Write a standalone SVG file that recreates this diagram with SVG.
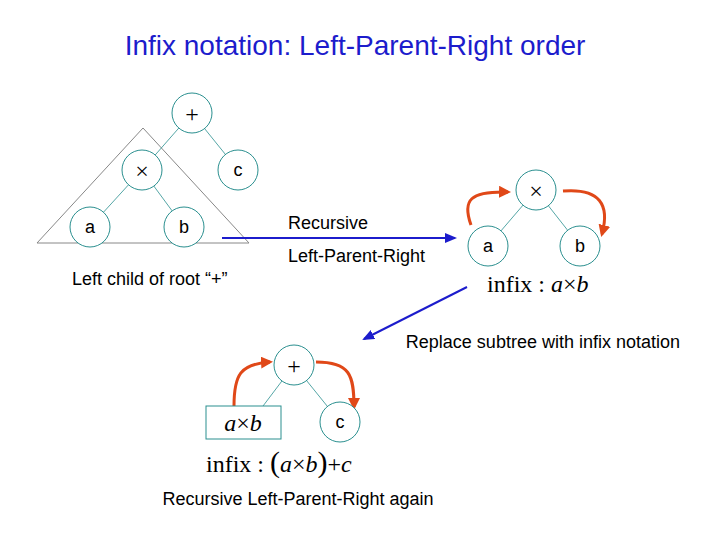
<svg xmlns="http://www.w3.org/2000/svg" width="720" height="540" viewBox="0 0 720 540">
<style>
.n{fill:#fff;stroke:#2a8f8f;stroke-width:1}
.e{stroke:#2a8f8f;stroke-width:0.8}
.t{font-family:"Liberation Sans",Arial,sans-serif;font-size:18px;fill:#000}
.m{font-family:"Liberation Serif","Times New Roman",serif;font-size:24px;fill:#000}
.r{fill:none;stroke:#e04818;stroke-width:3}
.b{stroke:#1c1ccc;stroke-width:2}
</style>
<defs>
<marker id="ra" markerWidth="4" markerHeight="4" refX="3" refY="2" orient="auto" markerUnits="strokeWidth"><path d="M0,0L4,2L0,4z" fill="#e04818"/></marker>
<marker id="ba" markerWidth="6" markerHeight="5" refX="5" refY="2.5" orient="auto" markerUnits="strokeWidth"><path d="M0,0L6,2.5L0,5z" fill="#1c1ccc"/></marker>
</defs>
<text x="355" y="55" text-anchor="middle" font-family="Liberation Sans,Arial,sans-serif" font-size="28" fill="#1c1ccc">Infix notation: Left-Parent-Right order</text>
<g id="connectors">
<polygon points="143,128 37,243 249,243" fill="none" stroke="#888" stroke-width="1"/>
<line class="e" x1="192" y1="113" x2="142" y2="170"/><line class="e" x1="192" y1="113" x2="238" y2="170"/>
<line class="e" x1="142" y1="170" x2="90" y2="227"/><line class="e" x1="142" y1="170" x2="184" y2="227"/>
<line class="e" x1="536" y1="190" x2="488" y2="246"/><line class="e" x1="536" y1="190" x2="580" y2="246"/>
<line class="e" x1="294" y1="365" x2="260" y2="410"/><line class="e" x1="294" y1="365" x2="340" y2="422"/>
<line class="b" x1="222" y1="238" x2="455" y2="238" marker-end="url(#ba)"/>
<line class="b" x1="467" y1="287" x2="364" y2="339" marker-end="url(#ba)"/>
<path class="r" d="M471,225 C462,200 470,191 508,192" marker-end="url(#ra)"/>
<path class="r" d="M563,191 C600,188 610,205 602,234" marker-end="url(#ra)"/>
<path class="r" d="M234,406 C234,375 240,364 270,362" marker-end="url(#ra)"/>
<path class="r" d="M316,362 C350,362 354,375 354,407" marker-end="url(#ra)"/>
</g>
<g id="plus1"><circle class="n" cx="192" cy="113" r="20"/><text class="m" x="192" y="122" text-anchor="middle">+</text></g>
<g id="times1"><circle class="n" cx="142" cy="170" r="20"/><text class="m" x="142" y="179" text-anchor="middle">×</text></g>
<g id="c1"><circle class="n" cx="238" cy="170" r="20"/><text class="t" x="238" y="176" text-anchor="middle">c</text></g>
<g id="a1"><circle class="n" cx="90" cy="227" r="20"/><text class="t" x="90" y="233" text-anchor="middle">a</text></g>
<g id="b1"><circle class="n" cx="184" cy="227" r="20"/><text class="t" x="184" y="233" text-anchor="middle">b</text></g>
<text class="t" x="288" y="229">Recursive</text>
<text class="t" x="288" y="262">Left-Parent-Right</text>
<text class="t" x="72" y="285">Left child of root “+”</text>
<g id="times2"><circle class="n" cx="536" cy="190" r="20"/><text class="m" x="536" y="199" text-anchor="middle">×</text></g>
<g id="a2"><circle class="n" cx="488" cy="246" r="20"/><text class="t" x="488" y="252" text-anchor="middle">a</text></g>
<g id="b2"><circle class="n" cx="580" cy="246" r="20"/><text class="t" x="580" y="252" text-anchor="middle">b</text></g>
<text class="m" x="487" y="292">infix : <tspan font-style="italic">a</tspan>×<tspan font-style="italic">b</tspan></text>
<text class="t" x="680" y="348" text-anchor="end">Replace subtree with infix notation</text>
<g id="plus3"><circle class="n" cx="294" cy="365" r="20"/><text class="m" x="294" y="374" text-anchor="middle">+</text></g>
<g id="ab3"><rect class="n" x="206" y="406" width="75" height="33"/><text class="m" x="243" y="431" text-anchor="middle"><tspan font-style="italic">a</tspan>×<tspan font-style="italic">b</tspan></text></g>
<g id="c3"><circle class="n" cx="340" cy="422" r="20"/><text class="t" x="340" y="428" text-anchor="middle">c</text></g>
<text class="m" x="206" y="472">infix : <tspan font-size="30">(</tspan><tspan font-style="italic">a</tspan>×<tspan font-style="italic">b</tspan><tspan font-size="30">)</tspan>+<tspan font-style="italic">c</tspan></text>
<text class="t" x="298" y="505" text-anchor="middle">Recursive Left-Parent-Right again</text>
</svg>
